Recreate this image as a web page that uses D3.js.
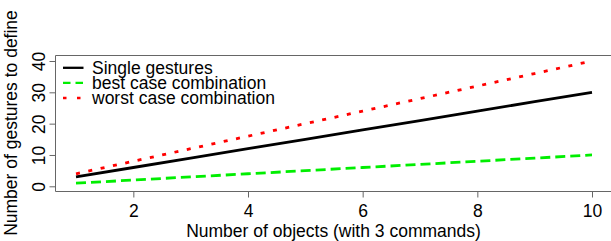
<!DOCTYPE html>
<html><head><meta charset="utf-8">
<script src="https://cdn.jsdelivr.net/npm/d3@7"></script>
<style>body{margin:0;background:#fff}svg{display:block;font-family:"Liberation Sans",Arial,sans-serif}</style>
</head><body><svg id="c" width="611" height="241"></svg>
<script>
const objects = [1,2,3,4,5,6,7,8,9,10];
const singleGestures = [3,6,9,12,15,18,21,24,27,30];
const bestCase = [1,2,3,4,5,6,7,8,9,10];
const worstCase = [4,8,12,16,20,24,28,32,36,40];
const xTicks = [2,4,6,8,10];
const yTicks = [0,10,20,30,40];
const seriesNames = ["Single gestures","best case combination","worst case combination"];
const seriesColors = ["#000000","#00ee00","#ff0000"];

const svg = d3.select("#c");
const x = d3.scaleLinear().domain([1,10]).range([76,592]);
const y = d3.scaleLinear().domain([0,40]).range([186.3,61]);
const axisColor = "#666";
const fs = "17.5px";

// box (left, top, bottom)
svg.append("path").attr("d","M611,55.5H55.5V191.5H611").attr("fill","none").attr("stroke",axisColor).attr("stroke-width",1);

// x axis ticks
const xa = svg.append("g").attr("transform","translate(0,191.5)")
  .call(d3.axisBottom(x).tickValues(xTicks).tickSize(6).tickPadding(0).tickFormat(d3.format("d")));
xa.select(".domain").remove();
xa.selectAll(".tick line").attr("stroke",axisColor);
xa.selectAll(".tick text").attr("font-size",fs).attr("font-family","Liberation Sans, Arial, sans-serif").attr("fill","#000").attr("dy",null).attr("y",25);

// y axis ticks
const ya = svg.append("g").attr("transform","translate(55.5,0)")
  .call(d3.axisLeft(y).tickValues(yTicks).tickSize(6).tickFormat(d3.format("d")));
ya.select(".domain").remove();
ya.selectAll(".tick line").attr("stroke",axisColor);
ya.selectAll(".tick text").attr("font-size",fs).attr("font-family","Liberation Sans, Arial, sans-serif").attr("fill","#000")
  .attr("x",null).attr("dy",null).attr("text-anchor","middle").attr("dominant-baseline","central")
  .attr("transform","translate(-16.5,0) rotate(-90)");

// titles
svg.append("text").attr("x",333.5).attr("y",237).attr("text-anchor","middle").attr("font-size",fs)
  .text("Number of objects (with 3 commands)");
svg.append("text").attr("transform","translate(17,123) rotate(-90)").attr("text-anchor","middle").attr("font-size",fs)
  .text("Number of gestures to define");

// lines
const series = [singleGestures, bestCase, worstCase];
const dashes = [null,"10,5","4,8.6"];
const line = d3.line().x((d,i)=>x(objects[i])).y(d=>y(d));
series.forEach((s,k)=>{
  svg.append("path").datum(s).attr("d",line).attr("fill","none")
    .attr("stroke",seriesColors[k]).attr("stroke-width",2.8)
    .attr("stroke-dasharray",dashes[k]);
});

// legend
const legY = [67.8,82.8,98];
const legDash = [null,"7.5,5","3.5,10.5"];
seriesNames.forEach((n,k)=>{
  svg.append("line").attr("x1",63).attr("x2",83.5).attr("y1",legY[k]).attr("y2",legY[k])
    .attr("stroke",seriesColors[k]).attr("stroke-width",2.3).attr("stroke-dasharray",legDash[k]);
  svg.append("text").attr("x",92).attr("y",legY[k]).attr("dominant-baseline","central").attr("font-size",fs).text(n);
});
</script></body></html>
